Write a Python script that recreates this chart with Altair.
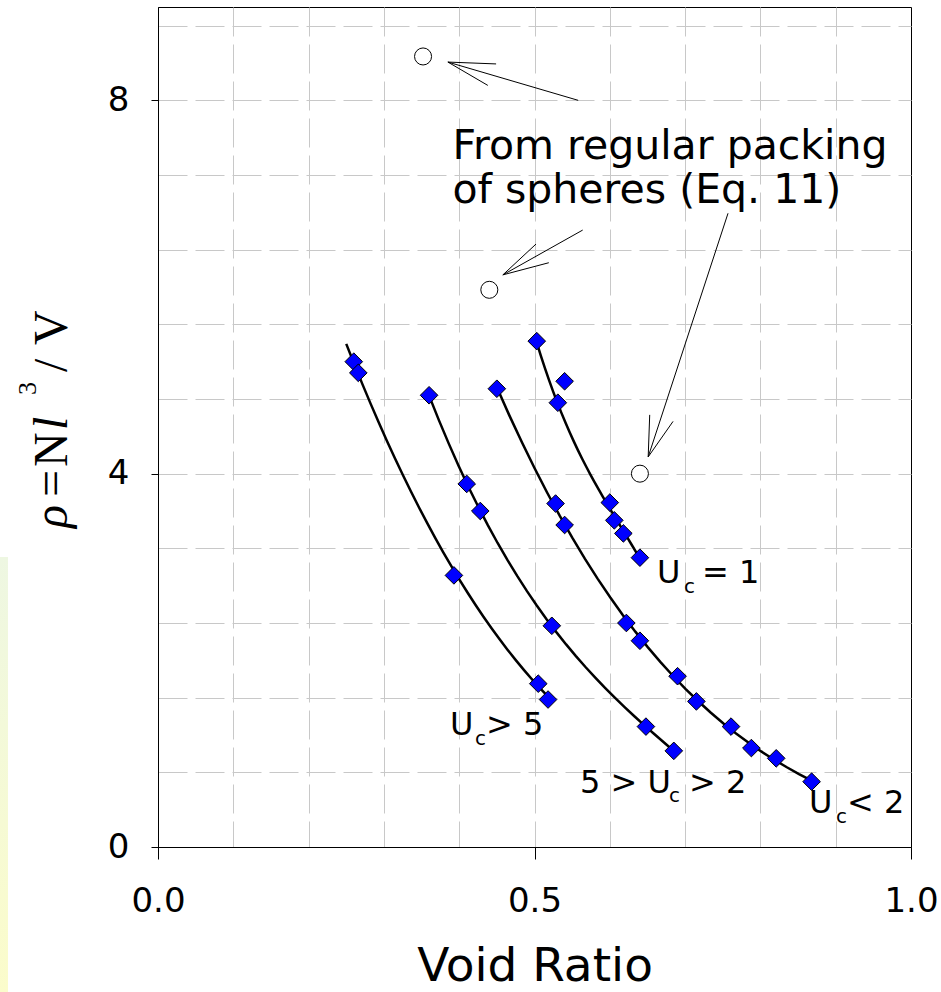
import altair as alt
import pandas as pd

# ---------------- data ----------------
# measured points (blue diamonds)
a_x = [0.260, 0.266, 0.393, 0.505, 0.518]            # Uc > 5
a_y = [5.20, 5.08, 2.91, 1.75, 1.58]
b_x = [0.360, 0.410, 0.428, 0.523, 0.648, 0.685]     # 5 > Uc > 2
b_y = [4.84, 3.89, 3.60, 2.37, 1.29, 1.03]
c_x = [0.450, 0.528, 0.540, 0.622, 0.640, 0.690, 0.715, 0.761, 0.788, 0.821, 0.868]  # Uc < 2
c_y = [4.91, 3.68, 3.45, 2.40, 2.21, 1.83, 1.56, 1.29, 1.06, 0.95, 0.70]
d_x = [0.503, 0.540, 0.531, 0.600, 0.606, 0.618, 0.640]   # Uc = 1
d_y = [5.42, 4.99, 4.76, 3.69, 3.50, 3.36, 3.10]

# points
ca_x = [0.250, 0.260, 0.266, 0.317, 0.361, 0.393, 0.414, 0.459, 0.498, 0.518]
ca_y = [5.36, 5.20, 5.08, 4.15, 3.43, 2.91, 2.66, 2.22, 1.81, 1.58]
cb_x = [0.360, 0.410, 0.428, 0.481, 0.523, 0.591, 0.648, 0.685]
cb_y = [4.84, 3.89, 3.60, 2.86, 2.37, 1.72, 1.29, 1.03]
cc_x = [0.450, 0.528, 0.540, 0.622, 0.640, 0.690, 0.715, 0.761, 0.788, 0.821, 0.868]
cc_y = [4.91, 3.68, 3.45, 2.40, 2.21, 1.83, 1.56, 1.29, 1.06, 0.95, 0.70]
cd_x = [0.503, 0.518, 0.531, 0.600, 0.606, 0.618, 0.640]
cd_y = [5.42, 5.00, 4.76, 3.69, 3.50, 3.36, 3.10]

# regular packing of spheres (open circles)
circ_x = [0.352, 0.440, 0.640]
circ_y = [8.47, 5.97, 4.00]

# annotation arrows (shafts and heads)
arr_x1 = [0.558, 0.385, 0.385, 0.564, 0.458, 0.458, 0.757, 0.651, 0.651]
arr_y1 = [8.00, 8.41, 8.41, 6.61, 6.13, 6.13, 6.79, 4.18, 4.18]
arr_x2 = [0.385, 0.449, 0.438, 0.458, 0.502, 0.519, 0.651, 0.653, 0.684]
arr_y2 = [8.41, 8.39, 8.16, 6.13, 6.46, 6.26, 4.18, 4.63, 4.56]

note_text = ["From regular packing", "of spheres (Eq. 11)"]
note_x = [0.391, 0.391]
note_y = [7.37, 6.90]

lab_text = ["U", "= 1", "U", "> 5", "5 > U", "> 2", "U", "< 2"]
lab_x = [0.6627, 0.7224, 0.3878, 0.4356, 0.5604, 0.7052, 0.8645, 0.915]
lab_y = [2.829, 2.829, 1.200, 1.200, 0.579, 0.579, 0.364, 0.364]
sub_text = ["c", "c", "c", "c"]
sub_x = [0.6985, 0.4210, 0.6787, 0.9004]
sub_y = [2.721, 1.093, 0.482, 0.257]

x_ticks = [0, 0.1, 0.2, 0.3, 0.4, 0.5, 0.6, 0.7, 0.8, 0.9, 1.0]
y_ticks = [0, 0.8, 1.6, 2.4, 3.2, 4, 4.8, 5.6, 6.4, 7.2, 8, 8.8]

# ---------------- tables ----------------
pts = pd.DataFrame({
    "s": ["A"] * len(a_x) + ["B"] * len(b_x) + ["C"] * len(c_x) + ["D"] * len(d_x),
    "x": a_x + b_x + c_x + d_x,
    "y": a_y + b_y + c_y + d_y,
})
crv = pd.DataFrame({
    "s": ["A"] * len(ca_x) + ["B"] * len(cb_x) + ["C"] * len(cc_x) + ["D"] * len(cd_x),
    "x": ca_x + cb_x + cc_x + cd_x,
    "y": ca_y + cb_y + cc_y + cd_y,
})
circ = pd.DataFrame({"x": circ_x, "y": circ_y})
arr = pd.DataFrame({"x": arr_x1, "y": arr_y1, "x2": arr_x2, "y2": arr_y2})
notes = pd.DataFrame({"t": note_text, "x": note_x, "y": note_y})
labs = pd.DataFrame({"t": lab_text, "x": lab_x, "y": lab_y})
subs = pd.DataFrame({"t": sub_text, "x": sub_x, "y": sub_y})

FONT = "DejaVu Sans"
GRID = "#c8c8c8"

xscale = alt.Scale(domain=[0, 1], nice=False, zero=False)
yscale = alt.Scale(domain=[0, 9], nice=False, zero=False)

xaxis = alt.Axis(
    values=x_ticks, title="Void Ratio", titleFont=FONT, titleFontSize=47,
    titleFontWeight="normal", titleColor="black", titleBaseline="alphabetic", titleY=133,
    labelExpr="(datum.value == 0 || datum.value == 0.5 || datum.value == 1) ? format(datum.value, '.1f') : ''",
    labelFont=FONT, labelFontSize=34, labelColor="black", labelPadding=25,
    labelFlush=False, labelOverlap=False,
    tickSize=12, tickWidth=1,
    tickColor={"condition": {"test": "datum.value == 0 || datum.value == 0.5 || datum.value == 1", "value": "black"}, "value": "transparent"},
    domainColor="black", domainWidth=1,
    grid=True, gridDash=[29, 8], gridWidth=1,
    gridColor={"condition": {"test": "datum.value == 0 || datum.value == 1", "value": "transparent"}, "value": GRID},
)
yaxis = alt.Axis(
    values=y_ticks, title=None,
    labelExpr="(datum.value == 0 || datum.value == 4 || datum.value == 8) ? format(datum.value, 'd') : ''",
    labelFont=FONT, labelFontSize=34, labelColor="black", labelPadding=22,
    labelFlush=False, labelOverlap=False,
    tickSize=7, tickWidth=1,
    tickColor={"condition": {"test": "datum.value == 0 || datum.value == 4 || datum.value == 8", "value": "black"}, "value": "transparent"},
    domainColor="black", domainWidth=1,
    grid=True, gridDash=[29, 8], gridWidth=1,
    gridColor={"condition": {"test": "datum.value == 0", "value": "transparent"}, "value": GRID},
)


def X():
    return alt.X("x:Q", scale=xscale, axis=xaxis)


def Y():
    return alt.Y("y:Q", scale=yscale, axis=yaxis)


# smooth trend curves fitted through the read curve points
curves = alt.Chart(crv).transform_regression(
    "x", "y", groupby=["s"], method="poly", order=3, as_=["x", "y"]
).mark_line(color="black", strokeWidth=2.5).encode(
    x=X(), y=Y(), detail="s:N")

diamonds = alt.Chart(pts).mark_point(
    shape="diamond", filled=True, color="#0000ff", stroke="black", strokeWidth=1,
    size=310, opacity=1).encode(x=X(), y=Y())

circles = alt.Chart(circ).mark_circle(
    color="white", stroke="black", strokeWidth=1, size=290, opacity=1).encode(x=X(), y=Y())

arrows = alt.Chart(arr).mark_rule(color="black", strokeWidth=1).encode(
    x=X(), y=Y(), x2="x2:Q", y2="y2:Q")

note = alt.Chart(notes).mark_text(
    font=FONT, fontSize=41, align="left", baseline="alphabetic", color="black").encode(
    x=X(), y=Y(), text="t:N")

labels = alt.Chart(labs).mark_text(
    font=FONT, fontSize=32, align="left", baseline="alphabetic", color="black").encode(
    x=X(), y=Y(), text="t:N")

sublabels = alt.Chart(subs).mark_text(
    font=FONT, fontSize=20, align="left", baseline="alphabetic", color="black").encode(
    x=X(), y=Y(), text="t:N")

# faint yellow stripe at the left edge of the page
stripe = alt.Chart(pd.DataFrame({"k": [0]})).mark_rect(
    fill=alt.Gradient(gradient="linear",
                      stops=[alt.GradientStop(color="#eef7e2", offset=0),
                             alt.GradientStop(color="#fbfccb", offset=1)],
                      x1=0, x2=0, y1=0, y2=1),
    opacity=1).encode(x=alt.value(-158), x2=alt.value(-150), y=alt.value(550), y2=alt.value(985))

# y-axis title  rho = N l^3 / V  (serif, rotated), built from pieces
one = pd.DataFrame({"k": [0]})
title_parts = [
    # text, position along the axis, size, style, baseline position
    ("ρ", 521, 48, "italic", -91),
    ("=", 490, 48, "normal", -91),
    ("N", 460, 48, "normal", -91),
    ("l", 423, 48, "italic", -91),
    ("3", 388, 26, "normal", -122),
    ("/", 365, 48, "normal", -91),
    ("V", 338, 48, "normal", -91),
]
ytitle_layers = []
for txt, ypos, fs, style, xpos in title_parts:
    ytitle_layers.append(
        alt.Chart(one).mark_text(
            text=txt, font="Liberation Serif", fontSize=fs, fontStyle=style,
            angle=270, align="left", baseline="alphabetic", color="black"
        ).encode(x=alt.value(xpos), y=alt.value(ypos))
    )

chart = alt.layer(
    stripe, curves, diamonds, circles, arrows, note, labels, sublabels, *ytitle_layers
).properties(
    width=753, height=840,
    padding={"left": 158, "top": 7, "right": 30, "bottom": 145},
    autosize=alt.AutoSizeParams(type="none"),
    background="white",
).configure_view(stroke="black", strokeWidth=1)

chart.save("out.html", embed_options={"renderer": "svg", "actions": False})
